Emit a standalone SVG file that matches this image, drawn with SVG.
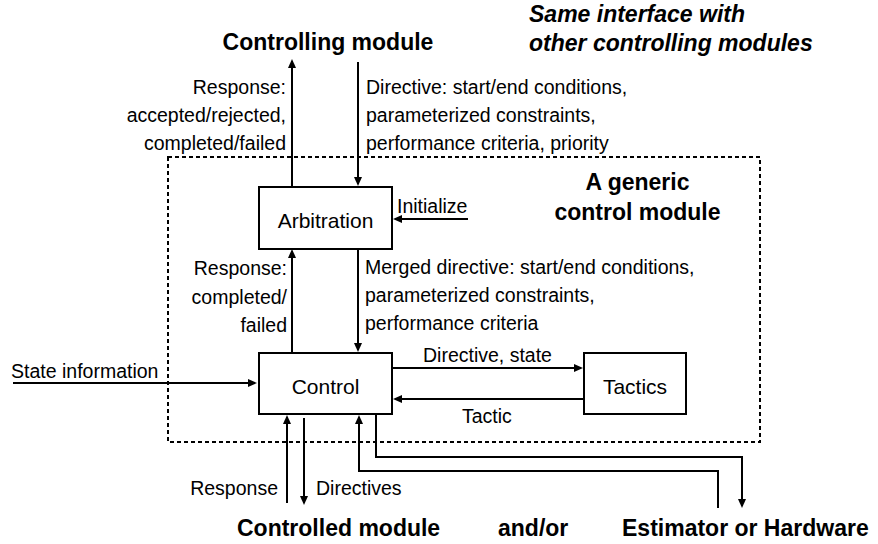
<svg xmlns="http://www.w3.org/2000/svg" width="878" height="544" viewBox="0 0 878 544">
<style>
text { font-family: "Liberation Sans", Arial, Helvetica, sans-serif; fill: #000; }
.lbl { font-size: 19.5px; }
.box-t { font-size: 21px; text-anchor: middle; }
.title { font-size: 23px; font-weight: bold; }
.it { font-style: italic; }
.box { fill: #fff; stroke: #000; stroke-width: 2; }
.conn { fill: none; stroke: #000; stroke-width: 2; }
.dash { fill: none; stroke: #000; stroke-width: 2; stroke-dasharray: 4 3; }
.end { text-anchor: end; }
.mid { text-anchor: middle; }
</style>
<defs>
<marker id="ah" markerUnits="userSpaceOnUse" markerWidth="10" markerHeight="10" refX="7" refY="4" orient="auto">
<path d="M0,0 L9,4 L0,8 z" fill="#000"/>
</marker>
</defs>

<rect class="dash" x="168" y="157" width="592" height="285"/>

<g id="connectors">
<line class="conn" x1="292" y1="187" x2="292" y2="61" marker-end="url(#ah)"/>
<line class="conn" x1="358" y1="62" x2="358" y2="184" marker-end="url(#ah)"/>
<line class="conn" x1="468" y1="219" x2="395" y2="219" marker-end="url(#ah)"/>
<line class="conn" x1="292" y1="353" x2="292" y2="251" marker-end="url(#ah)"/>
<line class="conn" x1="358" y1="249" x2="358" y2="350" marker-end="url(#ah)"/>
<line class="conn" x1="13" y1="383" x2="255" y2="383" marker-end="url(#ah)"/>
<line class="conn" x1="392" y1="368" x2="581" y2="368" marker-end="url(#ah)"/>
<line class="conn" x1="584" y1="399" x2="395" y2="399" marker-end="url(#ah)"/>
<line class="conn" x1="287" y1="503" x2="287" y2="417" marker-end="url(#ah)"/>
<line class="conn" x1="304" y1="418" x2="304" y2="503" marker-end="url(#ah)"/>
<polyline class="conn" points="718,508 718,471 359,471 359,417" marker-end="url(#ah)"/>
<polyline class="conn" points="376,414 376,457 742,457 742,506" marker-end="url(#ah)"/>
</g>

<g id="arbitration">
<rect class="box" x="259" y="187" width="133" height="62"/>
<text class="box-t" x="325.5" y="228">Arbitration</text>
</g>
<g id="control">
<rect class="box" x="259" y="353" width="133" height="61"/>
<text class="box-t" x="325.5" y="394">Control</text>
</g>
<g id="tactics">
<rect class="box" x="584" y="353" width="102" height="61"/>
<text class="box-t" x="635" y="394">Tactics</text>
</g>

<g id="labels">
<text class="title mid" x="328" y="50">Controlling module</text>
<text class="title it" x="529" y="22">Same interface with</text>
<text class="title it" x="529" y="51">other controlling modules</text>
<text class="title mid" x="637.5" y="190">A generic</text>
<text class="title mid" x="637.5" y="220">control module</text>

<text class="lbl end" x="286" y="93.5">Response:</text>
<text class="lbl end" x="286" y="122">accepted/rejected,</text>
<text class="lbl end" x="286" y="150">completed/failed</text>

<text class="lbl" x="366" y="93.5">Directive: start/end conditions,</text>
<text class="lbl" x="366" y="122">parameterized constraints,</text>
<text class="lbl" x="366" y="150">performance criteria, priority</text>

<text class="lbl" x="397" y="213">Initialize</text>

<text class="lbl end" x="287" y="275">Response:</text>
<text class="lbl end" x="287" y="304">completed/</text>
<text class="lbl end" x="287" y="332">failed</text>

<text class="lbl" x="365" y="274">Merged directive: start/end conditions,</text>
<text class="lbl" x="365" y="302">parameterized constraints,</text>
<text class="lbl" x="365" y="330">performance criteria</text>

<text class="lbl" x="11" y="378">State information</text>
<text class="lbl" x="423" y="362">Directive, state</text>
<text class="lbl" x="462" y="423">Tactic</text>

<text class="lbl end" x="278" y="495">Response</text>
<text class="lbl" x="316" y="495">Directives</text>

<text class="title" x="237" y="536">Controlled module</text>
<text class="title" x="498" y="536">and/or</text>
<text class="title" x="622" y="536">Estimator or Hardware</text>
</g>
</svg>
